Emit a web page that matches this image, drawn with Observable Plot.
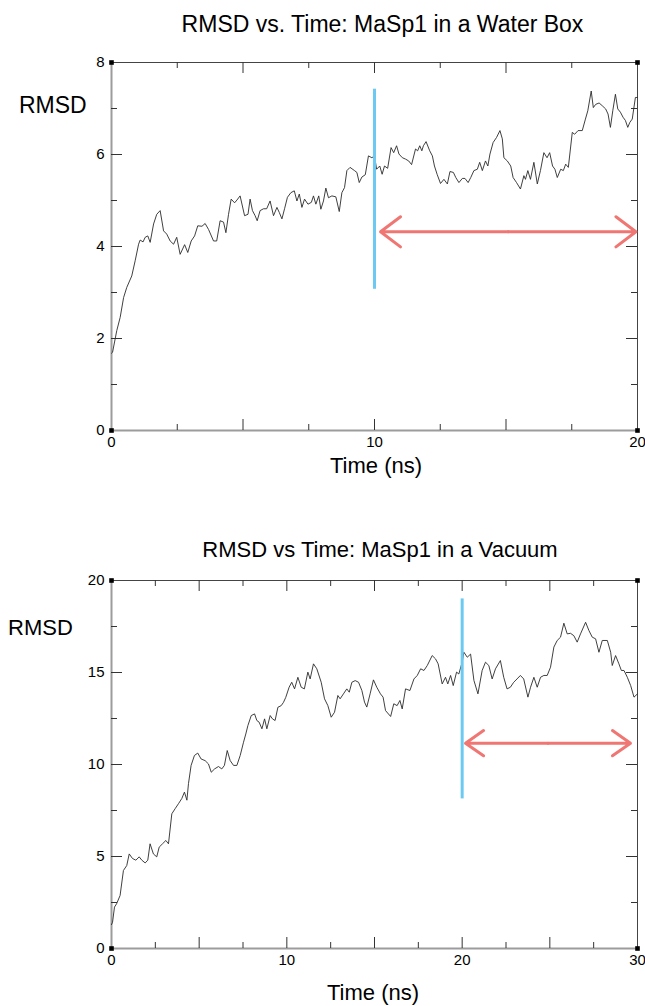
<!DOCTYPE html>
<html><head><meta charset="utf-8">
<script src="https://cdn.jsdelivr.net/npm/d3@7"></script>
<script src="https://cdn.jsdelivr.net/npm/@observablehq/plot@0.6"></script>
<style>
body{margin:0;background:#fff;}
#page{position:relative;width:645px;height:1006px;overflow:hidden;font-family:"Liberation Sans",Arial,Helvetica,sans-serif;color:#000;background:#fff;}
.t{position:absolute;white-space:nowrap;line-height:1;}
.p{position:absolute;left:0;}
</style></head><body><div id="page"></div>
<script>
// ---- Data: panel 1 (water box) ----
const waterTitle = "RMSD vs. Time: MaSp1 in a Water Box";
const waterTime = [0.00,0.04,0.20,0.33,0.46,0.58,0.77,0.90,1.03,1.09,1.20,1.28,1.38,1.47,1.60,1.72,1.85,1.98,2.10,2.23,2.36,2.48,2.61,2.78,2.90,3.03,3.16,3.28,3.44,3.56,3.69,3.88,4.00,4.13,4.26,4.35,4.45,4.55,4.68,4.77,4.89,5.06,5.19,5.27,5.36,5.46,5.54,5.65,5.78,5.90,6.03,6.16,6.29,6.38,6.48,6.58,6.69,6.82,6.95,7.05,7.14,7.24,7.34,7.47,7.60,7.68,7.77,7.88,7.96,8.06,8.15,8.25,8.38,8.53,8.66,8.76,8.86,8.95,9.07,9.24,9.33,9.42,9.52,9.65,9.77,9.90,10.00,10.08,10.20,10.29,10.38,10.50,10.63,10.73,10.84,10.93,11.06,11.18,11.30,11.41,11.56,11.64,11.72,11.80,11.86,11.96,12.10,12.20,12.28,12.38,12.51,12.64,12.77,12.87,13.00,13.09,13.21,13.34,13.44,13.56,13.66,13.78,13.91,14.00,14.10,14.22,14.31,14.39,14.51,14.64,14.77,14.86,14.92,15.05,15.18,15.27,15.40,15.55,15.68,15.74,15.83,15.93,16.06,16.19,16.31,16.44,16.56,16.66,16.77,16.86,16.95,17.08,17.18,17.27,17.37,17.52,17.61,17.74,17.90,18.02,18.11,18.24,18.32,18.41,18.54,18.66,18.79,18.88,18.97,19.06,19.16,19.25,19.35,19.45,19.54,19.63,19.71,19.80,19.92,20.00];
const waterRmsd = [1.68,1.70,2.17,2.46,2.89,3.11,3.36,3.69,4.05,4.14,4.10,4.20,4.23,4.09,4.49,4.70,4.78,4.34,4.27,4.12,4.05,4.20,3.83,4.04,3.87,4.12,4.23,4.45,4.44,4.50,4.37,4.12,4.12,4.56,4.53,4.30,4.70,5.03,4.95,5.01,5.10,4.67,4.70,5.03,4.78,4.67,4.56,4.78,4.82,4.82,4.99,4.67,4.85,4.74,4.60,4.82,5.07,5.17,5.21,4.99,5.14,4.85,5.03,4.92,4.96,5.10,4.92,5.10,4.81,4.99,5.27,5.06,5.10,5.08,4.76,5.17,5.28,5.65,5.72,5.65,5.61,5.39,5.51,5.56,5.97,5.93,5.97,5.68,5.75,5.57,5.75,5.70,6.15,6.04,6.19,6.01,5.93,5.90,5.86,5.78,6.12,6.08,6.19,6.08,6.19,6.28,6.08,5.97,5.75,5.57,5.37,5.46,5.36,5.63,5.61,5.50,5.39,5.48,5.48,5.39,5.50,5.65,5.68,5.83,5.65,5.86,5.75,6.01,6.26,6.37,6.52,6.34,5.93,5.86,5.75,5.50,5.39,5.25,5.54,5.46,5.65,5.46,5.83,5.36,5.65,6.04,5.93,6.04,5.75,5.68,5.50,5.68,5.65,5.79,5.72,6.48,6.44,6.52,6.52,6.77,6.95,7.38,7.02,7.09,7.12,7.06,6.99,6.88,6.59,6.95,7.31,6.99,6.92,6.81,6.74,6.59,6.70,6.77,7.24,7.24];
const waterXLabels = [0, 10, 20];
const waterYLabels = [0, 2, 4, 6, 8];
const waterMarker = {x: 10, y1: 3.07, y2: 7.42};
const waterArrow = {x1: 10.23, x2: 19.94, y: 4.32};

// ---- Data: panel 2 (vacuum) ----
const vacuumTitle = "RMSD vs Time: MaSp1 in a Vacuum";
const vacuumTime = [0.00,0.06,0.17,0.29,0.49,0.68,0.87,1.01,1.20,1.39,1.58,1.73,1.92,2.07,2.20,2.39,2.58,2.72,2.91,3.10,3.25,3.44,3.63,3.82,4.01,4.16,4.30,4.39,4.54,4.73,4.92,5.11,5.34,5.53,5.69,5.88,6.10,6.29,6.44,6.60,6.77,6.96,7.15,7.34,7.53,7.66,7.78,7.97,8.16,8.29,8.42,8.58,8.73,8.86,9.05,9.18,9.33,9.49,9.68,9.81,9.94,10.13,10.28,10.44,10.63,10.82,11.00,11.20,11.33,11.52,11.71,11.96,12.15,12.34,12.53,12.72,12.91,13.04,13.23,13.42,13.56,13.71,13.90,14.09,14.28,14.43,14.56,14.75,14.94,15.13,15.34,15.49,15.63,15.92,16.10,16.29,16.45,16.58,16.77,17.02,17.25,17.44,17.63,17.82,18.01,18.29,18.48,18.63,18.86,19.05,19.18,19.34,19.49,19.68,19.81,20.00,20.10,20.29,20.48,20.67,20.90,21.14,21.33,21.52,21.71,21.90,22.18,22.37,22.56,22.75,22.94,23.13,23.32,23.51,23.75,23.90,24.09,24.28,24.47,24.66,24.85,25.04,25.23,25.42,25.61,25.80,25.99,26.18,26.37,26.56,26.75,27.04,27.23,27.42,27.61,27.80,27.99,28.28,28.47,28.56,28.75,28.94,29.08,29.23,29.42,29.61,29.80,30.00];
const vacuumRmsd = [1.30,1.43,2.25,2.43,2.88,4.24,4.51,5.14,4.89,4.80,4.98,4.80,4.65,4.80,5.69,5.14,4.98,5.51,5.69,5.87,5.69,7.32,7.60,7.87,8.15,8.50,8.06,8.96,9.95,10.49,10.62,10.30,10.21,10.03,9.58,9.76,9.89,9.76,9.95,10.76,10.21,9.95,9.95,10.49,11.21,11.66,12.12,12.66,12.75,12.39,12.30,11.94,12.48,11.94,12.66,12.48,12.39,13.11,13.20,13.38,13.65,14.20,14.47,14.11,14.74,14.20,14.11,15.02,14.65,15.47,15.20,14.47,13.57,13.20,12.57,12.84,13.75,13.57,13.84,14.11,13.93,14.47,14.56,14.47,14.02,13.39,13.12,13.84,14.60,14.20,13.84,13.66,12.93,12.61,13.30,13.20,13.48,13.02,14.11,14.02,14.65,14.84,15.20,15.11,15.38,15.92,15.74,15.47,14.38,14.74,14.38,14.84,14.29,15.02,14.92,15.56,16.10,15.83,16.00,14.57,13.84,15.11,15.56,15.38,14.65,15.20,15.65,14.74,14.11,14.20,14.47,14.65,14.84,14.65,13.66,14.20,14.74,14.20,14.74,14.84,14.84,15.29,16.38,16.74,16.92,17.68,17.10,17.13,17.00,16.65,17.10,17.73,17.28,16.92,16.83,16.10,16.74,16.74,16.10,15.38,15.92,15.47,15.11,15.11,14.74,14.29,13.66,13.84];
const vacuumXLabels = [0, 10, 20, 30];
const vacuumYLabels = [0, 5, 10, 15, 20];
const vacuumMarker = {x: 20, y1: 8.13, y2: 19.0};
const vacuumArrow = {x1: 20.19, x2: 29.6, y: 11.16};

const yTitle = "RMSD";
const xTitle = "Time (ns)";

const FONT = '"Liberation Sans", Arial, Helvetica, sans-serif';
const page = document.getElementById("page");

function addText(txt, css) {
  const d = document.createElement("div");
  d.className = "t";
  d.textContent = txt;
  Object.assign(d.style, css);
  page.appendChild(d);
}

function panel(o) {
  const W = 645 - o.ml - o.mr, H = o.height - o.mt - o.mb;
  const data = o.times.map((t, i) => ({t, v: o.values[i]}));
  const xMajor = d3.range(o.xMajor, o.xMax - 1e-9, o.xMajor);
  const xMinor = d3.range(o.xMajor / 2, o.xMax, o.xMajor).filter(v => v < o.xMax);
  const yMajor = d3.range(o.yMajor, o.yMax - 1e-9, o.yMajor);
  const yMinor = d3.range(o.yMajor / 2, o.yMax, o.yMajor).filter(v => v < o.yMax);
  const tickC = "#333";
  const corners = [{x: 0, y: 0}, {x: 0, y: o.yMax}, {x: o.xMax, y: o.yMax}, {x: o.xMax, y: 0}];
  const mid = (o.arrow.x1 + o.arrow.x2) / 2;
  const arrows = [{a: mid, b: o.arrow.x2}, {a: mid, b: o.arrow.x1}];
  const chart = Plot.plot({
    width: 645, height: o.height,
    marginTop: o.mt, marginBottom: o.mb, marginLeft: o.ml, marginRight: o.mr,
    style: {fontFamily: FONT, fontSize: "15px", background: "transparent", overflow: "visible", color: "#000"},
    x: {domain: [0, o.xMax], label: null},
    y: {domain: [0, o.yMax], label: null},
    marks: [
      Plot.frame({stroke: "#444", strokeWidth: 1}),
      Plot.ruleX([0], {stroke: "#9c9c9c", strokeWidth: 2}),
      Plot.ruleY([0], {stroke: "#9c9c9c", strokeWidth: 2}),
      // inward ticks
      Plot.ruleX(xMajor, {x: d => d, insetTop: H - 11, stroke: tickC}),
      Plot.ruleX(xMinor, {x: d => d, insetTop: H - 6, stroke: tickC}),
      Plot.ruleX(xMajor, {x: d => d, insetBottom: H - 11, stroke: tickC}),
      Plot.ruleX(xMinor, {x: d => d, insetBottom: H - 6, stroke: tickC}),
      Plot.ruleY(yMajor, {y: d => d, insetRight: W - 11, stroke: tickC}),
      Plot.ruleY(yMinor, {y: d => d, insetRight: W - 6, stroke: tickC}),
      Plot.ruleY(yMajor, {y: d => d, insetLeft: W - 11, stroke: tickC}),
      Plot.ruleY(yMinor, {y: d => d, insetLeft: W - 6, stroke: tickC}),
      Plot.axisX({ticks: o.xLabels, tickSize: 0, tickPadding: 6, fontSize: 15, label: null, anchor: "bottom"}),
      Plot.axisY({ticks: o.yLabels, tickSize: 0, tickPadding: 7, fontSize: 15, label: null, anchor: "left"}),
      Plot.line(data, {x: "t", y: "v", stroke: "#2a2a2a", strokeWidth: 0.9}),
      Plot.ruleX([o.marker], {x: "x", y1: "y1", y2: "y2", stroke: "#6ccaf2", strokeWidth: 3}),
      Plot.arrow(arrows, {x1: "a", x2: "b", y1: () => o.arrow.y, y2: () => o.arrow.y, stroke: "#ef7672", strokeWidth: 3, headLength: o.headLength, headAngle: o.headAngle, strokeLinecap: "round"}),
      Plot.dot(corners, {x: "x", y: "y", symbol: "square", r: 2.6, fill: "#000"})
    ]
  });
  chart.classList.add("p");
  chart.style.top = o.top + "px";
  page.appendChild(chart);
}

// Panel 1
addText(waterTitle, {left: "120px", width: "525px", textAlign: "center", top: "13px", fontSize: "23px"});
addText(yTitle, {left: "19px", top: "94px", fontSize: "23px"});
addText(xTitle, {left: "111px", width: "530px", textAlign: "center", top: "455px", fontSize: "22px"});
panel({top: 0, height: 500, mt: 62, mb: 70, ml: 111, mr: 8,
  times: waterTime, values: waterRmsd, xMax: 20, yMax: 8, xMajor: 5, yMajor: 2,
  xLabels: waterXLabels, yLabels: waterYLabels, marker: waterMarker, arrow: waterArrow,
  headLength: 12.5, headAngle: 74});

// Panel 2
addText(vacuumTitle, {left: "115px", width: "530px", textAlign: "center", top: "539px", fontSize: "22px"});
addText(yTitle, {left: "8px", top: "617px", fontSize: "22px"});
addText(xTitle, {left: "108px", width: "530px", textAlign: "center", top: "982px", fontSize: "22px"});
panel({top: 520, height: 486, mt: 60, mb: 58, ml: 111, mr: 8,
  times: vacuumTime, values: vacuumRmsd, xMax: 30, yMax: 20, xMajor: 5, yMajor: 5,
  xLabels: vacuumXLabels, yLabels: vacuumYLabels, marker: vacuumMarker, arrow: vacuumArrow,
  headLength: 11, headAngle: 70});
</script>
</body></html>
